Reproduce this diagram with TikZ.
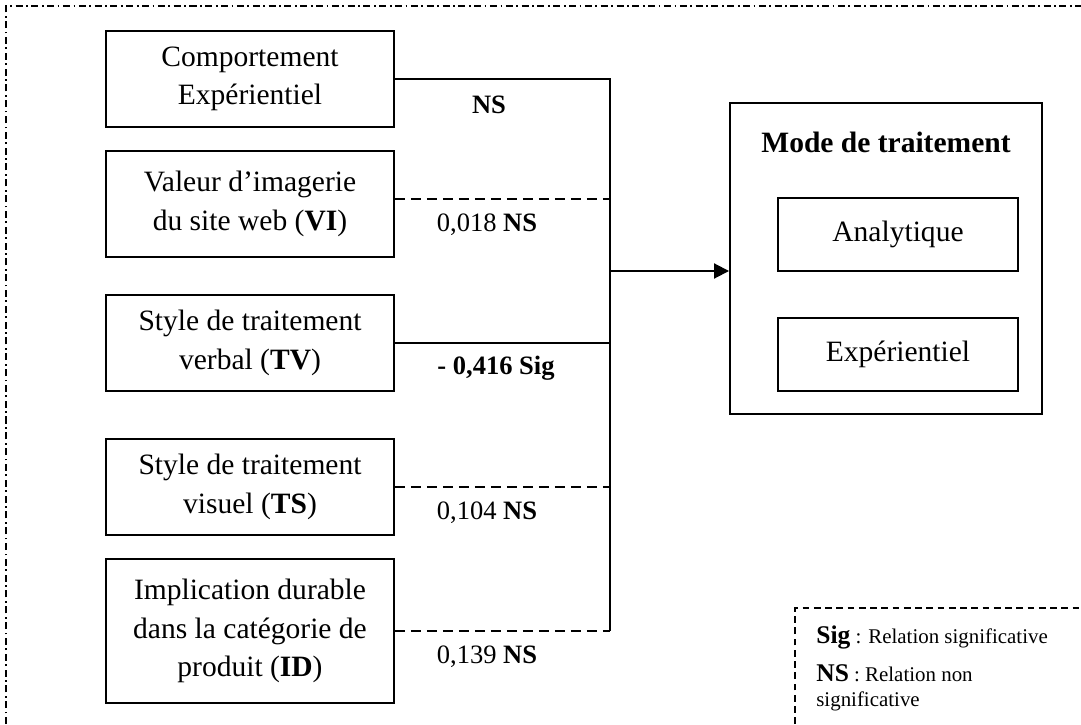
\documentclass[tikz,border=0pt]{standalone}
\usepackage{fontspec}
\setmainfont{Liberation Serif}
\usetikzlibrary{arrows.meta,positioning}

\begin{document}
\begin{tikzpicture}[>={Triangle[length=0.3cm,width=0.3cm]},
  varbox/.style={draw, line width=1.1pt, minimum width=5.76cm, minimum height=1.92cm, align=center, font=\fontsize{16.8}{22}\selectfont},
  modebox/.style={draw, line width=1.1pt, minimum width=4.8cm, minimum height=1.46cm, font=\fontsize{16.8}{22}\selectfont},
  coef/.style={font=\fontsize{15.1}{18}\selectfont},
  legtxt/.style={anchor=base west, inner sep=0pt, font=\fontsize{11.9}{14}\selectfont},
  link/.style={line width=1.1pt},
  nslink/.style={link, dash pattern=on 5.7pt off 3.4pt}]
  \useasboundingbox (0,0) rectangle (21.62,14.48);
  % Frame
  \draw[line width=1.1pt, dash pattern=on 4pt off 2pt on 1pt off 2pt] (0.12,0) -- (0.12,14.36) -- (21.62,14.36);
  % Explanatory variables
  \node[varbox] (comp) at (5,12.9) {Comportement\\Expérientiel};
  \node[varbox, minimum height=2.12cm] (vi) at (5,10.4) {Valeur d’imagerie\\du site web (\textbf{VI})};
  \node[varbox] (tv) at (5,7.62) {Style de traitement\\verbal (\textbf{TV})};
  \node[varbox] (ts) at (5,4.74) {Style de traitement\\visuel (\textbf{TS})};
  \node[varbox, minimum height=2.88cm] (id) at (5,1.86) {Implication durable\\dans la catégorie de\\produit (\textbf{ID})};
  % Processing mode
  \node[draw, line width=1.1pt, minimum width=6.24cm, minimum height=6.22cm] (mode) at (17.72,9.31) {};
  \node[font=\fontsize{16.8}{22}\selectfont\bfseries] (title) at (17.72,11.64) {Mode de traitement};
  \node[modebox] (ana) at (17.96,9.79) {Analytique};
  \node[modebox] (expe) at (17.96,7.39) {Expérientiel};
  % Links
  \coordinate (bus) at (12.2,9.06);
  \draw[link] (comp.east) -- (comp.east -| bus) -- (id.east -| bus);
  \draw[nslink] ([yshift=0.1cm]vi.east) -- ([yshift=0.1cm]vi.east -| bus);
  \draw[link] (tv.east) -- (tv.east -| bus);
  \draw[nslink] (ts.east) -- (ts.east -| bus);
  \draw[nslink] (id.east) -- (id.east -| bus);
  \draw[link, ->] (bus) -- (bus -| mode.west);
  \node[coef] (c1) at (9.78,12.38) {\textbf{NS}};
  \node[coef] (c2) at (9.74,9.98) {0,018 \textbf{NS}};
  \node[coef] (c3) at (9.92,7.12) {\textbf{- 0,416 Sig}};
  \node[coef] (c4) at (9.74,4.22) {0,104 \textbf{NS}};
  \node[coef] (c5) at (9.74,1.34) {0,139 \textbf{NS}};
  % Legend
  \draw[line width=1pt, dash pattern=on 3.8pt off 2.6pt] (15.9,0) -- (15.9,2.32) -- (21.62,2.32);
  \node[legtxt] (sig) at (16.32,1.62) {{\fontsize{14.5}{17}\selectfont\textbf{Sig}} : Relation significative};
  \node[legtxt] (ns) at (16.32,0.86) {{\fontsize{14.5}{17}\selectfont\textbf{NS}} : Relation non};
  \node[legtxt] (ns2) at (16.32,0.36) {significative};
\end{tikzpicture}
\end{document}
